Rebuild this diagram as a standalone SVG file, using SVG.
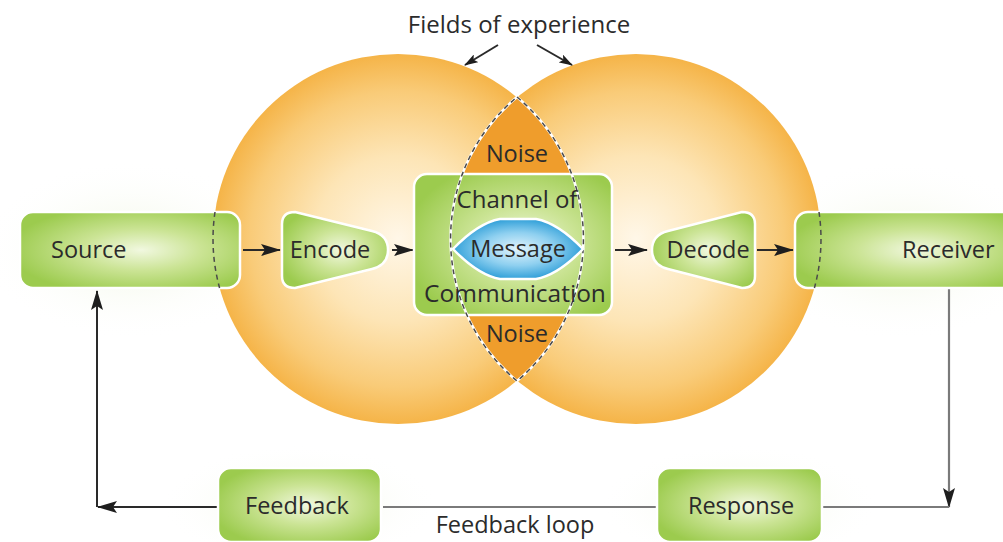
<svg xmlns="http://www.w3.org/2000/svg" width="1003" height="542" viewBox="0 0 1003 542">
<style>
.t{font-family:"Open Sans","Noto Sans","Liberation Sans",sans-serif;font-size:23.5px;fill:#2b2b2b}
.box{fill:url(#gGreen);stroke:#ffffff;stroke-width:2.5}
.ln{fill:none;stroke:#2a2a2a;stroke-width:2}
.lg{fill:none;stroke:#7a7a7a;stroke-width:2.2}
.dashW{fill:none;stroke:#ffffff;stroke-width:2.6}
.dashD{fill:none;stroke:#4a4a4a;stroke-width:1.5;stroke-dasharray:5 4}
</style>
<defs>
<radialGradient id="gOrange" cx="0.5" cy="0.5" r="0.5">
<stop offset="0" stop-color="#FFF7E8"/>
<stop offset="0.45" stop-color="#FDE5B6"/>
<stop offset="0.8" stop-color="#F9CB78"/>
<stop offset="1" stop-color="#F5B448"/>
</radialGradient>
<radialGradient id="gGreen" cx="0.55" cy="0.5" r="0.6">
<stop offset="0" stop-color="#F1F8E0"/>
<stop offset="0.45" stop-color="#CBE495"/>
<stop offset="1" stop-color="#9CCB4E"/>
</radialGradient>
<radialGradient id="gBlue" cx="0.5" cy="0.5" r="0.55">
<stop offset="0" stop-color="#E4F4FC"/>
<stop offset="0.5" stop-color="#8FD0F0"/>
<stop offset="1" stop-color="#1E96D4"/>
</radialGradient>
<radialGradient id="gGlow" cx="0.5" cy="0.5" r="0.5">
<stop offset="0" stop-color="#EEF5DF" stop-opacity="0.9"/>
<stop offset="1" stop-color="#ffffff" stop-opacity="0"/>
</radialGradient>
<marker id="ah" viewBox="0 0 20 12" refX="19" refY="6" markerWidth="20" markerHeight="12" orient="auto" markerUnits="userSpaceOnUse">
<path d="M0,0 L20,6 L0,12 L4,6 z" fill="#1e1e1e"/>
</marker>
<marker id="ahs" viewBox="0 0 14 9" refX="13" refY="4.5" markerWidth="14" markerHeight="9" orient="auto" markerUnits="userSpaceOnUse">
<path d="M0,0 L14,4.5 L0,9 L3,4.5 z" fill="#1e1e1e"/>
</marker>
</defs>
<rect width="1003" height="542" fill="#ffffff"/>
<g id="glow">
<ellipse cx="130" cy="250" rx="150" ry="90" fill="url(#gGlow)"/>
<ellipse cx="900" cy="250" rx="150" ry="90" fill="url(#gGlow)"/>
<ellipse cx="300" cy="505" rx="140" ry="60" fill="url(#gGlow)"/>
<ellipse cx="740" cy="505" rx="140" ry="60" fill="url(#gGlow)"/>
</g>
<g id="fields-of-experience">
<circle cx="398" cy="239" r="185" fill="url(#gOrange)"/>
<circle cx="636" cy="239" r="185" fill="url(#gOrange)"/>
<path id="lens" d="M517 97 A185 185 0 0 1 517 381 A185 185 0 0 1 517 97 Z" fill="#EF9D2C"/>
<text class="t" x="519" y="33" text-anchor="middle" style="font-size:24px">Fields of experience</text>
</g>
<g id="noise-top"><text class="t" x="517" y="162" text-anchor="middle">Noise</text></g>
<g id="noise-bottom"><text class="t" x="517" y="342" text-anchor="middle">Noise</text></g>
<g id="connectors">
<line class="ln" x1="498" y1="45" x2="465" y2="65" marker-end="url(#ahs)" stroke-width="1.5"/>
<line class="ln" x1="537" y1="45" x2="572" y2="65" marker-end="url(#ahs)" stroke-width="1.5"/>
<line class="ln" x1="243" y1="250" x2="280" y2="250" marker-end="url(#ah)"/>
<line class="ln" x1="392" y1="250" x2="413" y2="250" marker-end="url(#ah)"/>
<line class="ln" x1="615" y1="250" x2="647" y2="250" marker-end="url(#ah)"/>
<line class="ln" x1="757" y1="250" x2="793" y2="250" marker-end="url(#ah)"/>
<polyline class="lg" points="949,288 949,507" marker-end="url(#ah)"/>
<line class="lg" x1="949" y1="507" x2="823" y2="507"/>
<line class="lg" x1="656" y1="507" x2="383" y2="507"/>
<line class="ln" x1="217" y1="507" x2="98" y2="507" marker-end="url(#ah)"/>
<line class="ln" x1="97" y1="507" x2="97" y2="291" marker-end="url(#ah)"/>
<text class="t" x="515" y="533" text-anchor="middle">Feedback loop</text>
</g>
<g id="source">
<rect class="box" x="20" y="212" width="220" height="76" rx="13"/>
<path class="dashD" d="M215 212 A185 185 0 0 0 219.6 288"/>
<text class="t" x="51" y="258">Source</text>
</g>
<g id="encode">
<path class="box" d="M295 212 L372 231 Q388 235 388 250 Q388 265 372 269 L295 288 Q282 288 282 276 L282 224 Q282 212 295 212 Z"/>
<text class="t" x="330" y="258" text-anchor="middle">Encode</text>
</g>
<g id="channel">
<rect class="box" x="414" y="174" width="198" height="141" rx="13"/>
<path class="dashW" d="M517 97 A185 185 0 0 1 517 381 A185 185 0 0 1 517 97 Z"/>
<path class="dashD" d="M517 97 A185 185 0 0 1 517 381 A185 185 0 0 1 517 97 Z"/>
<text class="t" x="517" y="208" text-anchor="middle" style="font-size:24px">Channel of</text>
<text class="t" x="515" y="302" text-anchor="middle" style="font-size:24.5px">Communication</text>
</g>
<g id="message">
<path d="M453 249 Q478 223 500 219 L536 219 Q558 223 583 249 Q558 275 536 279 L500 279 Q478 275 453 249 Z" fill="url(#gBlue)" stroke="#ffffff" stroke-width="2.5"/>
<text class="t" x="518" y="257" text-anchor="middle">Message</text>
</g>
<g id="decode">
<path class="box" d="M742 212 Q755 212 755 224 L755 276 Q755 288 742 288 L668 269 Q652 265 652 250 Q652 235 668 231 Z"/>
<text class="t" x="708" y="258" text-anchor="middle">Decode</text>
</g>
<g id="receiver">
<rect class="box" x="795" y="212" width="222" height="76" rx="13"/>
<path class="dashD" d="M819 212 A185 185 0 0 1 814.4 288"/>
<text class="t" x="902" y="258">Receiver</text>
</g>
<g id="feedback">
<rect class="box" x="218" y="468" width="163" height="74" rx="13"/>
<text class="t" x="297" y="514" text-anchor="middle">Feedback</text>
</g>
<g id="response">
<rect class="box" x="657" y="468" width="165" height="74" rx="13"/>
<text class="t" x="741" y="514" text-anchor="middle">Response</text>
</g>
</svg>
